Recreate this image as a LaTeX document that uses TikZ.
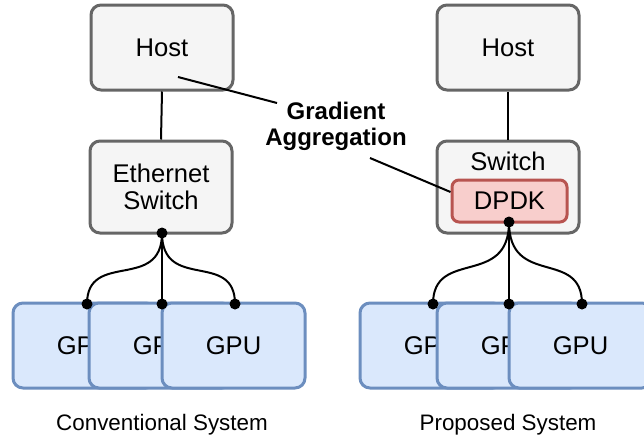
\documentclass[tikz,border=0pt]{standalone}
\usepackage{fontspec}
\setmainfont{Liberation Sans}
\usetikzlibrary{calc}
\definecolor{greyfill}{HTML}{F5F5F5}
\definecolor{greyline}{HTML}{666666}
\definecolor{bluefill}{HTML}{DAE8FC}
\definecolor{blueline}{HTML}{6C8EBF}
\definecolor{redfill}{HTML}{F8CECC}
\definecolor{redline}{HTML}{B85450}
\newcommand{\nodefont}{\fontsize{25.6}{27}\selectfont}
\newcommand{\capfont}{\fontsize{22.4}{26}\selectfont}
\tikzset{
  graybox/.style={draw=greyline, fill=greyfill, line width=3pt, rounded corners=10pt,
    minimum width=142pt, minimum height=85pt, inner sep=0pt, align=center, font=\nodefont},
  gpubox/.style={draw=blueline, fill=bluefill, line width=3pt, rounded corners=10pt,
    minimum width=143pt, minimum height=85pt, inner sep=0pt, font=\nodefont},
  dpdkbox/.style={draw=redline, fill=redfill, line width=3pt, rounded corners=7pt,
    minimum width=115pt, minimum height=42pt, inner sep=0pt, font=\nodefont},
  wire/.style={line width=2pt, black},
  blob/.style={circle, fill=black, inner sep=0pt, minimum size=11pt},
  caption/.style={font=\capfont, inner sep=0pt},
}
\begin{document}
\begin{tikzpicture}[x=1pt, y=-1pt]
  \useasboundingbox (0,0) rectangle (644,439);
  \clip (0,0) rectangle (644,439);

  % ---------- conventional system ----------
  \node[graybox] (hostL) at (162,47.5) {Host};
  \node[graybox, minimum height=92pt] (swL) at (161,187) {Ethernet\\Switch};
  \draw[wire] (hostL.south) -- (swL.north);

  \node[gpubox] (gpuL1) at (84.5,345.5) {GPU};
  \node[gpubox] (gpuL2) at (160.5,345.5) {GPU};
  \node[gpubox] (gpuL3) at (233.5,345.5) {GPU};

  \coordinate (tL1) at (87,304);
  \coordinate (tL2) at (162,304);
  \coordinate (tL3) at (235,304);
  \coordinate (sL) at (162,233);
  \draw[wire] (sL) .. controls (162,292) and (87,250) .. (tL1);
  \draw[wire] (sL) -- (tL2);
  \draw[wire] (sL) .. controls (162,292) and (235,250) .. (tL3);
  \foreach \p in {sL,tL1,tL2,tL3} \node[blob] at (\p) {};

  \node[caption] (capL) at (162,425) {Conventional System};

  % ---------- proposed system ----------
  \node[graybox] (hostR) at (508,47.5) {Host};
  \node[graybox, minimum height=92pt] (swR) at (508,187) {};
  \node[font=\nodefont, inner sep=0pt] (swRtxt) at (508,161) {Switch};
  \node[dpdkbox] (dpdk) at (509.5,201) {DPDK};
  \draw[wire] (hostR.south) -- (swR.north);

  \node[gpubox] (gpuR1) at (431.5,345.5) {GPU};
  \node[gpubox] (gpuR2) at (508.5,345.5) {GPU};
  \node[gpubox] (gpuR3) at (580.5,345.5) {GPU};

  \coordinate (tR1) at (433,304);
  \coordinate (tR2) at (509,304);
  \coordinate (tR3) at (582,304);
  \coordinate (sR) at (509,222);
  \draw[wire] (sR) .. controls (509,288) and (433,248) .. (tR1);
  \draw[wire] (sR) -- (tR2);
  \draw[wire] (sR) .. controls (509,288) and (582,248) .. (tR3);
  \foreach \p in {sR,tR1,tR2,tR3} \node[blob] at (\p) {};

  \node[caption] (capR) at (508,425) {Proposed System};

  % ---------- shared annotation ----------
  \node[font=\bfseries\fontsize{24}{26}\selectfont, align=center, inner sep=0pt]
    (grad) at (336,126) {Gradient\\Aggregation};
  \coordinate (gHost) at (178,77);
  \coordinate (gTop) at (277,103);
  \coordinate (gLow) at (370,158);
  \draw[wire] (gHost) -- (gTop);
  \draw[wire] (gLow) -- ($(dpdk.west)+(0,-9)$);
\end{tikzpicture}
\end{document}
